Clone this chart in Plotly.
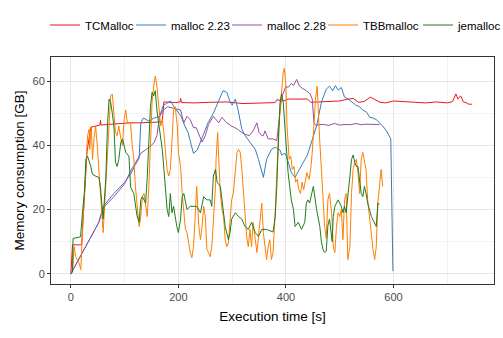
import plotly.graph_objects as go

# ---------------- data ----------------
series_names = ["TCMalloc", "malloc 2.23", "malloc 2.28", "TBBmalloc", "jemalloc"]
series_colors = ["#E41A1C", "#377EB8", "#984EA3", "#FF7F00", "#1E7D1E"]

tc_t = [0, 3, 20, 24, 30, 37, 45, 54, 55, 56, 70, 90, 110, 130, 150, 170, 173, 180, 195,
        203, 204, 206, 230, 260, 290, 320, 350, 380, 383, 395, 404, 420, 440, 446, 470, 480,
        500, 510, 519, 525, 535, 545, 557, 565, 575, 585, 600, 620, 640, 660, 680, 700, 710,
        716, 720, 725, 730, 735, 740, 746]
tc_v = [0, 9, 9, 22, 38, 45.6, 46, 46.3, 47.8, 46.3, 46.5, 46.8, 47, 47, 47.2, 47.3, 53.5,
        53.4, 53.3, 53.5, 54.6, 53.3, 53.2, 53.4, 53.5, 53, 53.2, 53.3, 54.2, 53.8, 54.4, 54.3,
        54.4, 53.4, 53.5, 53.5, 53.8, 54.2, 54.4, 54.6, 53.4, 53.6, 55, 54.4, 53.4, 53.2, 53.8,
        53.6, 53.4, 53.2, 53.5, 53.2, 53.6, 56, 54.4, 55.4, 53.5, 53.3, 52.8, 52.8]

m223_t = [0, 30, 52, 60, 80, 100, 111, 120, 127, 130, 135, 145, 155, 165, 172, 178, 185,
          192, 200, 205, 212, 218, 224, 228, 235, 245, 255, 265, 275, 283, 290, 296, 300,
          306, 311, 318, 324, 333, 343, 349, 355, 358, 364, 373, 380, 389, 392, 398, 401,
          410, 417, 420, 440, 457, 466, 475, 481, 487, 492, 497, 503, 509, 515, 522, 530,
          537, 543, 550, 556, 562, 568, 574, 580, 587, 593, 595, 599]
m223_v = [0, 9.5, 16, 21, 25, 28.5, 31, 34, 36, 47, 48.5, 47.5, 48.5, 49, 52.5, 53, 53.8,
          52, 50, 49, 46, 44, 40, 37.5, 38.5, 43, 47, 50, 54, 57, 56.5, 53.6, 52.5, 54.4,
          51, 45, 43, 41, 38.7, 35.6, 32, 30, 35.6, 38.7, 39.4, 38.5, 37, 37.5, 36.6, 31.5,
          30, 31, 37, 46, 53.4, 57.5, 58.4, 57, 58.6, 57.2, 58, 55, 54.5, 53.5, 52.5, 52,
          51, 50.3, 48.7, 48.5, 48, 47, 46, 44.5, 42.8, 42, 0.8]

m228_t = [0, 30, 52, 60, 80, 100, 111, 120, 130, 140, 150, 155, 160, 165, 172, 180, 195,
          204, 210, 216, 222, 228, 233, 244, 250, 256, 265, 270, 275, 281, 290, 299, 310,
          318, 324, 332, 339, 346, 350, 355, 358, 361, 367, 375, 383, 392, 400, 404, 410,
          414, 420, 425, 430, 438, 445, 449, 452, 455, 470, 480, 490, 500, 510, 520, 530,
          540, 550, 560, 574]
m228_v = [0, 9, 16, 20.5, 24, 28, 32, 34.5, 37.5, 38.7, 40, 41, 43, 49, 51, 52, 51.5, 51,
          47, 49, 48, 45.5, 45.5, 41, 43, 46.5, 49, 48, 47, 48.7, 47, 46, 45, 44, 43.4, 43,
          44.5, 47, 44, 43, 43, 44.5, 42, 42, 41.5, 55, 58.4, 58, 59.3, 58.6, 60.5, 58.5,
          57.8, 57, 56, 54.4, 47, 46.3, 46.5, 46.2, 46.8, 46.3, 46.5, 46.4, 46.8, 46.4,
          46.6, 46.5, 46.5]

tbb_t = [0, 3, 6, 9, 15, 18.5, 22, 25, 28, 31, 34, 35, 38, 40, 43, 46, 49, 52, 55, 57, 60,
         62, 65, 68, 71, 74, 77, 80, 83, 86, 89, 93, 96, 99, 102, 105, 108, 111, 114, 117,
         120, 123, 127, 130, 133, 136, 139, 142, 145, 148, 151, 154, 157, 160, 164, 167,
         170, 173, 176, 179, 182, 185, 188, 191, 194, 198, 200, 204, 207, 210, 213, 216,
         219, 222, 225, 228, 231, 234, 238, 241, 244, 247, 250, 253, 256, 259, 262, 265,
         269, 270, 273, 275, 278, 281, 284, 287, 290, 293, 296, 299, 302, 306, 309, 312,
         315, 318, 321, 324, 327, 330, 333, 336, 339, 343, 346, 349, 352, 355, 358, 361,
         364, 367, 370, 373, 376, 380, 383, 386, 389, 392, 395, 397, 400, 402, 406, 409,
         412, 415, 418, 421, 424, 427, 430, 433, 436, 439, 443, 446, 449, 452, 455, 458,
         460, 463, 466, 469, 472, 475, 478, 481, 485, 488, 491, 494, 497, 500, 503, 506,
         509, 512, 515, 519, 522, 525, 528, 531, 534, 537, 540, 543, 546, 549, 552, 556,
         559, 562, 565, 568, 571, 574, 577, 580]
tbb_v = [0, 0.5, 8.4, 5.3, 3.4, 1.3, 14.7, 25, 33.4, 43, 45, 38.7, 46, 35.6, 42, 46, 40,
         31.5, 25, 20, 12.8, 19, 25, 35.6, 48, 55.4, 56, 50.3, 44, 43, 46, 42, 40, 48, 51,
         47, 47, 47, 40, 36, 27.2, 21, 14.7, 17.8, 24, 25, 21, 17.8, 27.2, 41, 53.4, 58.4,
         61.6, 58.4, 50.3, 46, 48, 44, 37.8, 32.5, 30.4, 32.5, 41, 51, 52, 46, 37.8, 33.4,
         25, 20, 13.8, 12.8, 9.6, 6.6, 5, 8.4, 17, 27.2, 14.7, 10.6, 14.7, 21, 17.8, 7.5,
         6.6, 5.3, 8.4, 17, 27.2, 35.6, 44, 35.6, 25, 20, 17.8, 10.6, 8.4, 9.6, 17, 23, 25,
         33.4, 37.8, 38.7, 37.8, 32.5, 25, 19, 11.6, 8.4, 13.8, 8.4, 16, 10.6, 6.6, 11.6,
         16, 22, 12.8, 8.4, 4.4, 8.4, 10.6, 4.4, 6.6, 19, 32.5, 43, 51, 58.4, 62.7, 64,
         58.4, 46, 35.6, 36.6, 32.5, 33.4, 28.5, 29.4, 26.2, 25, 28.5, 26.2, 29.4, 31.5,
         29.4, 32.5, 37.8, 46, 54.4, 58.4, 50.3, 41, 32.5, 21, 14.7, 11, 23, 25, 19, 8.4,
         6.6, 14.7, 19, 17.8, 20, 10.6, 23, 25, 4.4, 8.4, 25, 32.5, 34.7, 35.6, 31.5, 25,
         35.6, 37.8, 35.6, 32.5, 23, 16, 10.6, 7.5, 4.4, 8.4, 22, 28.5, 32.5, 27.2]

je_t = [0, 3, 4, 18, 22, 25, 28, 31, 37, 40, 46, 52, 55, 59, 60, 65, 68, 71, 74, 77, 80,
        83, 86, 89, 93, 96, 102, 108, 111, 117, 123, 127, 130, 133, 139, 142, 145, 148, 151,
        154, 157, 160, 164, 167, 170, 173, 176, 179, 182, 185, 188, 191, 197, 200, 204, 207,
        210, 216, 222, 234, 241, 247, 253, 259, 262, 265, 269, 272, 278, 281, 284, 287, 293,
        296, 299, 302, 306, 312, 318, 324, 330, 336, 343, 349, 355, 364, 376, 380, 383, 386,
        389, 392, 395, 398, 401, 404, 407, 410, 414, 417, 423, 429, 435, 438, 441, 444, 451,
        457, 463, 466, 469, 472, 475, 478, 481, 486, 488, 491, 497, 500, 503, 506, 509, 512,
        515, 519, 522, 525, 528, 531, 534, 537, 540, 543, 546, 549, 552, 559, 565, 568, 571,
        574]
je_v = [0, 0.5, 11, 11.5, 20, 25, 35.6, 36.6, 33.4, 31, 30.4, 30, 27, 20, 17, 30, 46,
        54.4, 53.4, 50, 46, 34.7, 33.4, 35.6, 41, 42, 37.8, 36.6, 27, 25, 18, 16, 23, 24,
        22, 30, 40, 52, 56.5, 55.4, 57, 51, 46, 43, 38.7, 32.5, 25, 20, 17.8, 25, 19, 21,
        14.7, 12.8, 17, 24, 25, 20, 21, 21, 19, 24, 23, 23, 21, 30.4, 32.5, 28.5, 27.2, 23,
        17.8, 14.7, 10.6, 12.8, 17, 17.8, 19, 17.8, 17, 14.7, 13.8, 16, 12.8, 11.6, 13.8,
        13.8, 13, 17.8, 27.2, 41, 53.4, 56, 53.4, 46, 37.8, 31.5, 27.2, 23, 20, 14.7, 16,
        13.8, 16, 22, 23, 22, 27.2, 20, 14.7, 10, 7.5, 6.6, 7, 15, 17, 10, 17.8, 21, 23, 22,
        21, 19, 21, 19, 25, 30.4, 35.6, 37, 34.7, 33.4, 33.4, 29.4, 25, 24, 27.2, 25, 22,
        17.8, 16, 14.7, 22, 21.6]

xs = [tc_t, m223_t, m228_t, tbb_t, je_t]
ys = [tc_v, m223_v, m228_v, tbb_v, je_v]

x_ticks = [0, 200, 400, 600]
y_ticks = [0, 20, 40, 60]

# legend entry widths (text part, px) so the single legend row matches the reference spacing
legend_widths = [41, 51, 51, 50, 40]

# ---------------- figure ----------------
fig = go.Figure()
for name, col, x, y, lw in zip(series_names, series_colors, xs, ys, legend_widths):
    fig.add_trace(go.Scatter(x=x, y=y, mode="lines", name=name, legendwidth=lw,
                             line=dict(color=col, width=1)))

axis_common = dict(
    showline=True, mirror=True, linecolor="#333333", linewidth=1,
    ticks="outside", ticklen=3, tickcolor="#333333", tickwidth=1,
    showgrid=True, gridcolor="#E6E6E6", gridwidth=1, zeroline=False,
    tickfont=dict(family="Liberation Sans, Arial, sans-serif", size=11, color="#4D4D4D"),
    automargin=False,
)

M_L, M_R, M_T, M_B = 51, 9, 57, 54
PLOT_W = 503 - M_L - M_R
PLOT_H = 338 - M_T - M_B

fig.update_layout(
    width=503, height=338,
    margin=dict(l=M_L, r=M_R, t=M_T, b=M_B),
    paper_bgcolor="white", plot_bgcolor="white",
    font=dict(family="Liberation Sans, Arial, sans-serif", color="black"),
    legend=dict(orientation="h", xref="paper", yref="paper",
                x=(45 - M_L) / PLOT_W, xanchor="left",
                y=(338 - M_B - 25) / PLOT_H, yanchor="middle",
                font=dict(size=11.5, color="black"), itemwidth=30,
                bgcolor="rgba(0,0,0,0)", borderwidth=0),
    xaxis=dict(range=[-37, 787], tickvals=x_ticks,
               minor=dict(showgrid=True, gridcolor="#F3F3F3", dtick=100, tick0=0),
               title=dict(text="Execution time [s]", font=dict(size=13.5), standoff=9),
               **axis_common),
    yaxis=dict(range=[-3.2, 67.5], tickvals=y_ticks,
               minor=dict(showgrid=True, gridcolor="#F3F3F3", dtick=10, tick0=0),
               title=dict(text="Memory consumption [GB]", font=dict(size=13.5), standoff=4),
               **axis_common),
)

fig.write_html("out.html")
